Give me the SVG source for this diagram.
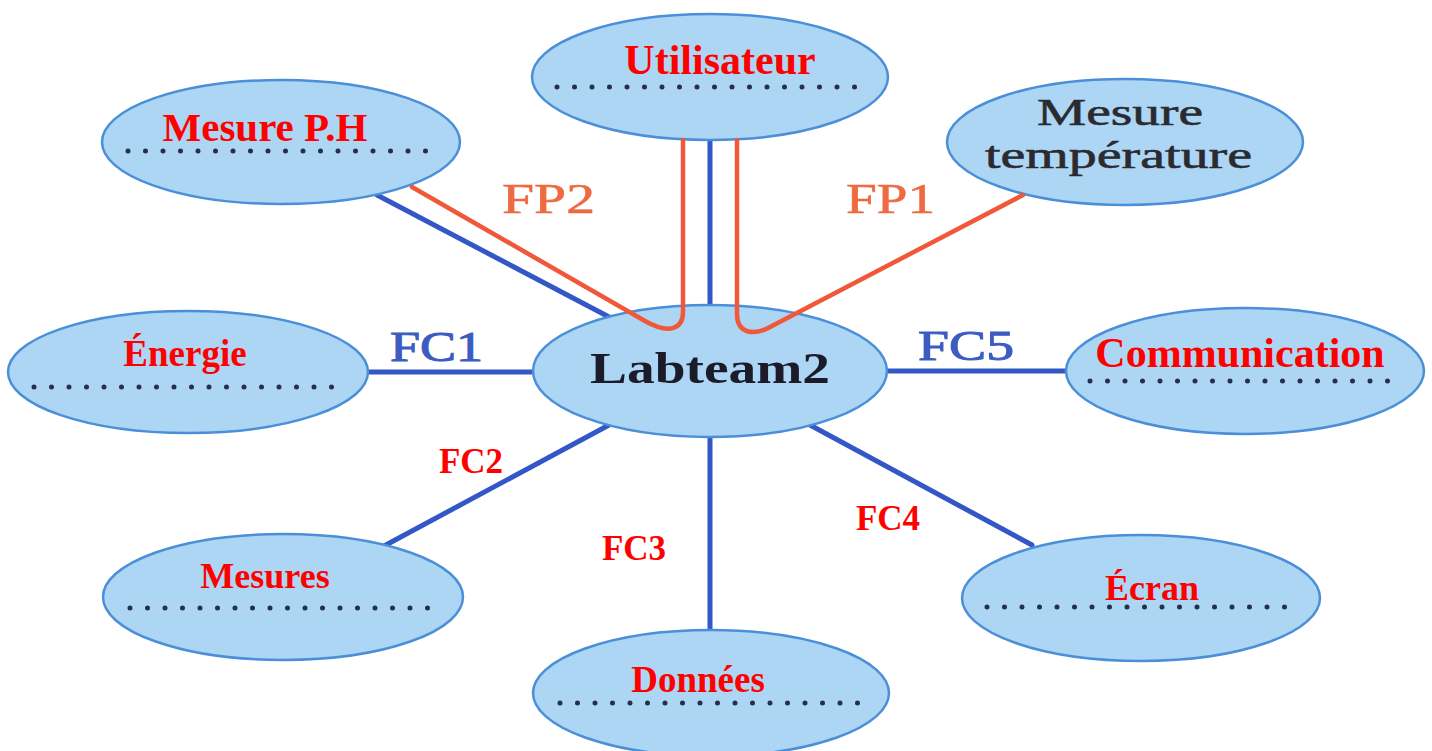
<svg xmlns="http://www.w3.org/2000/svg" width="1432" height="751" viewBox="0 0 1432 751">
<style>
.node{fill:#acd6f4;stroke:#4a8fd8;stroke-width:2.5}
.dots{stroke:#26304a;stroke-width:5;stroke-linecap:round;stroke-dasharray:0 17.5;fill:none}
.red{font-family:"Liberation Serif","Times New Roman",serif;font-weight:bold;fill:#ff0000;text-anchor:middle}
.dark{font-family:"Liberation Serif","Times New Roman",serif;fill:#2a2a30;stroke:#2a2a30;stroke-width:0.6;font-size:38px}
.blue{stroke:#3457c8;stroke-width:5;fill:none;stroke-linecap:round}
.orange{stroke:#f1583a;stroke-width:4.5;fill:none;stroke-linecap:round}
.fc{font-family:"Liberation Serif","Times New Roman",serif;font-size:42px;fill:#3d5cc2;stroke:#3d5cc2;stroke-width:1}
.fp{font-family:"Liberation Serif","Times New Roman",serif;font-size:42px;fill:#ee6a40;stroke:#ee6a40;stroke-width:0.6}
</style>
<rect width="1432" height="751" fill="#ffffff"/>
<g id="connectors-back">
<line class="blue" x1="368" y1="372" x2="533" y2="372"/>
<line class="blue" x1="888" y1="371" x2="1066" y2="371"/>
<line class="blue" x1="609" y1="425" x2="384" y2="546"/>
<line class="blue" x1="710" y1="437" x2="710" y2="630"/>
<line class="blue" x1="810" y1="425" x2="1032" y2="545"/>
<line class="blue" x1="377" y1="195" x2="611" y2="318"/>
<line class="blue" x1="710" y1="140" x2="710" y2="305"/>
</g>
<g id="node-utilisateur">
<ellipse class="node" cx="710" cy="77" rx="178" ry="63"/>
<text class="red" x="720" y="74" font-size="42">Utilisateur</text>
<line class="dots" x1="557" y1="87" x2="862" y2="87"/>
</g>
<g id="node-mesure-ph">
<ellipse class="node" cx="281" cy="142" rx="179" ry="62"/>
<text class="red" x="265" y="141" font-size="41">Mesure P.H</text>
<line class="dots" x1="128" y1="151" x2="436" y2="151"/>
</g>
<g id="node-mesure-temperature">
<ellipse class="node" cx="1125" cy="142" rx="178" ry="63"/>
<text class="dark" x="1037" y="125" textLength="166" lengthAdjust="spacingAndGlyphs">Mesure</text>
<text class="dark" x="985" y="168" textLength="267" lengthAdjust="spacingAndGlyphs">température</text>
</g>
<g id="node-energie">
<ellipse class="node" cx="188" cy="372" rx="180" ry="61"/>
<text class="red" x="185" y="366" font-size="37">Énergie</text>
<line class="dots" x1="34" y1="387" x2="344" y2="387"/>
</g>
<g id="node-labteam2">
<ellipse class="node" cx="710" cy="371" rx="177" ry="66"/>
<text x="590" y="383" font-family="'Liberation Serif','Times New Roman',serif" font-weight="bold" font-size="44" fill="#1b1b2a" textLength="240" lengthAdjust="spacingAndGlyphs">Labteam2</text>
</g>
<g id="node-communication">
<ellipse class="node" cx="1245" cy="371" rx="179" ry="63"/>
<text class="red" x="1240" y="367" font-size="42">Communication</text>
<line class="dots" x1="1090" y1="381" x2="1397" y2="381"/>
</g>
<g id="node-mesures">
<ellipse class="node" cx="283" cy="597" rx="180" ry="63"/>
<text class="red" x="265" y="588" font-size="36">Mesures</text>
<line class="dots" x1="130" y1="608" x2="438" y2="608"/>
</g>
<g id="node-ecran">
<ellipse class="node" cx="1141" cy="598" rx="179" ry="63"/>
<text class="red" x="1152" y="600" font-size="36">Écran</text>
<line class="dots" x1="987" y1="607" x2="1292" y2="607"/>
</g>
<g id="node-donnees">
<ellipse class="node" cx="711" cy="693" rx="178" ry="63"/>
<text class="red" x="698" y="692" font-size="37">Données</text>
<line class="dots" x1="560" y1="703" x2="866" y2="703"/>
</g>
<g id="connectors">
<path class="orange" d="M412,187 L645,321 C668,334 683,330 683,312 L683,140"/>
<path class="orange" d="M737,140 L737,314 C737,333 753,337 772,326 L1023,195"/>
<text class="fp" x="502" y="213" textLength="93" lengthAdjust="spacingAndGlyphs">FP2</text>
<text class="fp" x="846" y="213" textLength="89" lengthAdjust="spacingAndGlyphs">FP1</text>
<text class="fc" x="390" y="361" textLength="93" lengthAdjust="spacingAndGlyphs">FC1</text>
<text class="fc" x="918" y="360" textLength="96" lengthAdjust="spacingAndGlyphs">FC5</text>
<text class="red" x="471" y="473" font-size="35">FC2</text>
<text class="red" x="634" y="560" font-size="35">FC3</text>
<text class="red" x="888" y="530" font-size="35">FC4</text>
</g>
</svg>
